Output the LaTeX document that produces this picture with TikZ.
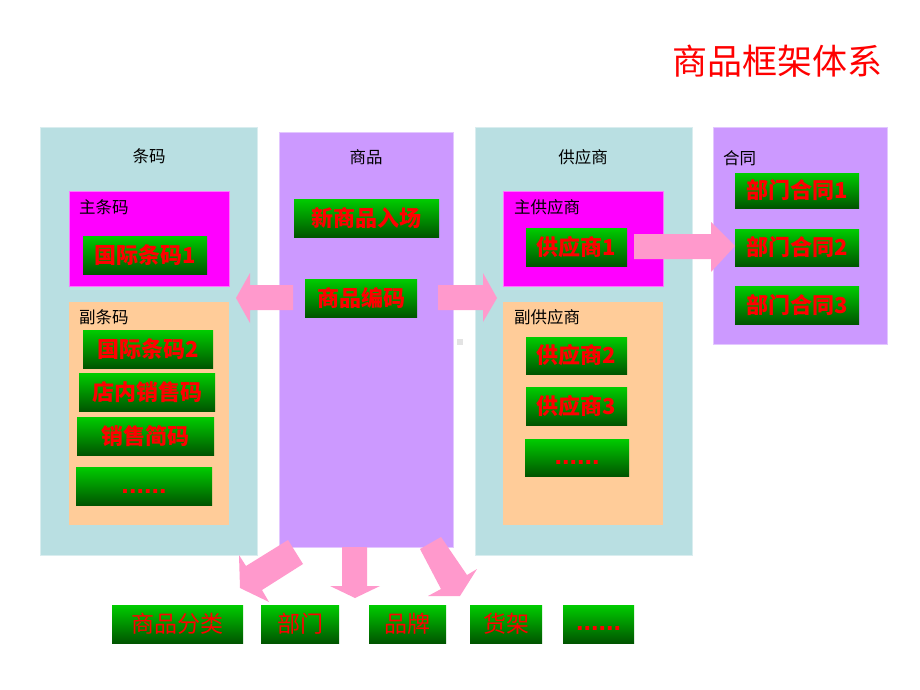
\documentclass[tikz,border=0pt]{standalone}
\usepackage{fontspec}
\setmainfont{Noto Sans CJK SC}
\newfontfamily\dotfont{Liberation Sans}
\definecolor{panelblue}{RGB}{185,223,226}
\definecolor{panelpurple}{RGB}{204,153,255}
\definecolor{magbox}{RGB}{255,0,255}
\definecolor{peach}{RGB}{255,204,153}
\definecolor{gtop}{RGB}{0,204,0}
\definecolor{gbot}{RGB}{0,85,0}
\definecolor{pinkarr}{RGB}{255,153,204}
\newcommand\mybox[7]{\node[#1,minimum width={(#5-#3)*1pt},minimum height={(#6-#4)*1pt}] (#2) at ({(#3+#5)/2},{(#4+#6)/2}) {#7};}
\newcommand\mydots[1]{\smash{\raisebox{#1}{\dotfont\bfseries\fontsize{27}{27}\selectfont ......}}}
\tikzset{
  base/.style={inner sep=0pt, outer sep=0pt},
  bluepanel/.style={base, fill=panelblue, draw=panelblue!55!white, line width=0.8pt},
  purplepanel/.style={base, fill=panelpurple, draw=panelpurple!55!white, line width=0.8pt},
  magpanel/.style={base, fill=magbox, draw=magbox!55!white, line width=0.8pt},
  peachpanel/.style={base, fill=peach},
  gbox/.style={base, top color=gtop, middle color=gtop!80!gbot, bottom color=gbot, text=red, font=\fontsize{22}{22}\selectfont\bfseries},
  gboxr/.style={gbox, font=\fontsize{23}{23}\selectfont},
  lbl/.style={base, text=black, font=\fontsize{16.5}{16.5}\selectfont},
  arr/.style={fill=pinkarr, draw=none},
}
\begin{document}
\begin{tikzpicture}[x=1pt,y=-1pt]
\useasboundingbox (0,0) rectangle (920,690);
\fill[white] (0,0) rectangle (920,690);
% title
\node[base, text=red, font=\fontsize{35}{35}\selectfont] (title) at (777,61) {商品框架体系};
% panels
\mybox{bluepanel}{ptm}{40}{127}{257}{555}{}
\mybox{purplepanel}{psp}{279}{132}{453}{547}{}
\mybox{bluepanel}{pgys}{475}{127}{692}{555}{}
\mybox{purplepanel}{pht}{713}{127}{887}{344}{}
% panel labels
\node[lbl] (ltm) at (149,156) {条码};
\node[lbl] (lsp) at (366,157) {商品};
\node[lbl] (lgys) at (583,157) {供应商};
\node[lbl, anchor=west] (lht) at (723,158) {合同};
% barcode sub panels
\mybox{magpanel}{zhu}{69}{191}{229}{286}{}
\mybox{peachpanel}{fu}{69}{302}{229}{525}{}
\node[lbl, anchor=west] (lzhu) at (79,207) {主条码};
\node[lbl, anchor=west] (lfu) at (79,317) {副条码};
\mybox{gbox}{gj1}{83}{236}{207}{274}{国际条码1}
\mybox{gbox}{gj2}{83}{330}{213}{368}{国际条码2}
\mybox{gbox}{dn}{79}{373}{215}{411}{店内销售码}
\mybox{gbox}{xs}{77}{417}{214}{455}{销售简码}
\mybox{gbox}{d1}{76}{467}{212}{505}{\mydots{-7.5pt}}
% goods
\mybox{gbox}{xsp}{294}{199}{439}{237}{新商品入场}
\mybox{gbox}{spbm}{305}{279}{417}{317}{商品编码}
% supplier sub panels
\mybox{magpanel}{zg}{503}{191}{663}{286}{}
\mybox{peachpanel}{fg}{503}{302}{663}{525}{}
\node[lbl, anchor=west] (lzg) at (514,207) {主供应商};
\node[lbl, anchor=west] (lfg) at (514,317) {副供应商};
\mybox{gbox}{g1}{526}{228}{627}{266}{供应商1}
\mybox{gbox}{g2}{526}{337}{627}{374}{供应商2}
\mybox{gbox}{g3}{526}{387}{627}{425}{供应商3}
\mybox{gbox}{d2}{525}{439}{629}{476}{\mydots{-7pt}}
% contracts
\mybox{gbox}{h1}{735}{173}{859}{208}{部门合同1}
\mybox{gbox}{h2}{735}{229}{859}{266}{部门合同2}
\mybox{gbox}{h3}{735}{286}{859}{324}{部门合同3}
% bottom row
\mybox{gboxr}{fl}{112}{605}{243}{643}{商品分类}
\mybox{gboxr}{bm}{261}{605}{339}{643}{部门}
\mybox{gboxr}{pp}{369}{605}{446}{643}{品牌}
\mybox{gboxr}{hj}{470}{605}{542}{643}{货架}
\mybox{gboxr}{d3}{563}{605}{634}{643}{\mydots{-6.5pt}}
% small grey mark
\fill[gray!22] (457,339) rectangle (463,345);
% block arrows
\fill[arr] (293,285) -- (250,285) -- (250,273) -- (236,298) -- (250,323) -- (250,310) -- (293,310) -- cycle;
\fill[arr] (438,285) -- (483,285) -- (483,273) -- (497,298) -- (483,322) -- (483,310) -- (438,310) -- cycle;
\fill[arr] (634,234) -- (711,234) -- (711,222) -- (735,246) -- (711,272) -- (711,259) -- (634,259) -- cycle;
\fill[arr] (288,540) -- (303,564) -- (262,590) -- (269,602) -- (240,588) -- (239,555) -- (246,566) -- cycle;
\fill[arr] (342,547) -- (367,547) -- (367,586) -- (380,586) -- (355,598) -- (330,586) -- (342,586) -- cycle;
\fill[arr] (420,549) -- (441,537) -- (467,575) -- (477,569) -- (460,596) -- (428,596) -- (441,589) -- cycle;
\end{tikzpicture}
\end{document}
